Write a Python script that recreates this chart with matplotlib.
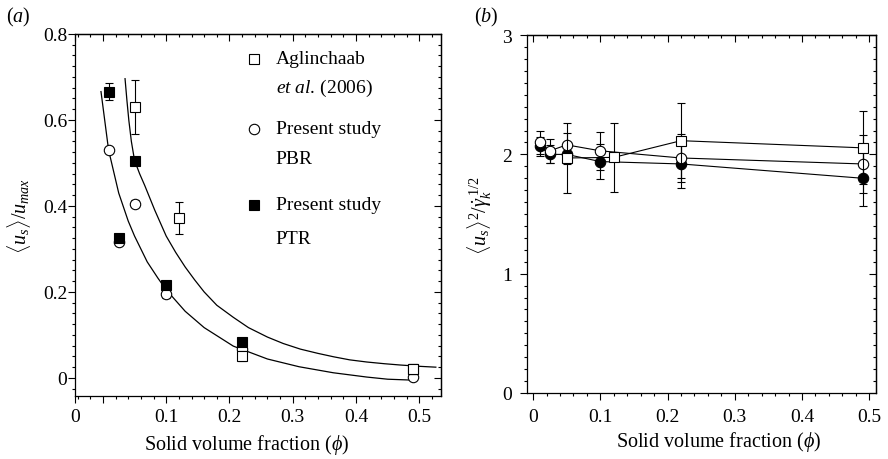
import matplotlib
matplotlib.use("Agg")
import matplotlib.pyplot as plt
from matplotlib.ticker import MultipleLocator, FixedLocator, NullFormatter

plt.rcParams['font.family'] = ['Liberation Serif', 'DejaVu Serif']
plt.rcParams['mathtext.fontset'] = 'custom'
plt.rcParams['mathtext.rm'] = 'Liberation Serif'
plt.rcParams['mathtext.it'] = 'Liberation Serif:italic'
plt.rcParams['font.size'] = 14
plt.rcParams['axes.linewidth'] = 0.9

# ---- panel (a): <u_s>/u_max vs solid volume fraction
phi_agl = [0.05, 0.12, 0.22, 0.49]
u_agl = [0.63, 0.372, 0.051, 0.021]
u_agl_err = [0.063, 0.037, 0.012, 0.012]

phi_pres = [0.01, 0.025, 0.05, 0.1, 0.22, 0.49]
u_pbr = [0.53, 0.316, 0.405, 0.195, 0.067, 0.003]
u_pbr_err = [0.008, 0.008, 0.008, 0.01, 0.008, 0.006]
u_ptr = [0.666, 0.325, 0.505, 0.217, 0.083, 0.02]
u_ptr_err = [0.02, 0.008, 0.008, 0.008, 0.008, 0.008]

# fitted curves
fit_low_phi = [-0.003, 0.009, 0.025, 0.04, 0.05, 0.07, 0.087, 0.1, 0.13, 0.16,
               0.206, 0.26, 0.31, 0.364, 0.417, 0.45, 0.487]
fit_low_u = [0.666, 0.53, 0.43, 0.365, 0.33, 0.27, 0.232, 0.205, 0.155, 0.117,
             0.074, 0.044, 0.026, 0.012, 0.002, -0.003, -0.005]
fit_high_phi = [0.035, 0.038, 0.041, 0.045, 0.05, 0.058, 0.066, 0.082, 0.1,
                0.115, 0.13, 0.145, 0.16, 0.18, 0.206, 0.23, 0.26, 0.285,
                0.312, 0.34, 0.365, 0.39, 0.417, 0.445, 0.47, 0.5, 0.526]
fit_high_u = [0.696, 0.645, 0.599, 0.55, 0.506, 0.475, 0.448, 0.39, 0.33,
              0.292, 0.258, 0.228, 0.2, 0.169, 0.141, 0.117, 0.095, 0.08,
              0.067, 0.057, 0.049, 0.042, 0.037, 0.033, 0.03, 0.027, 0.025]

# ---- panel (b): <u_s>^2 / gamma_k^(1/2)
phi_b_agl = [0.05, 0.12, 0.22, 0.49]
r_agl = [1.97, 1.975, 2.115, 2.055]
r_agl_err = [0.29, 0.29, 0.315, 0.305]

phi_b = [0.01, 0.025, 0.05, 0.1, 0.22, 0.49]
r_pbr = [2.10, 2.03, 2.08, 2.03, 1.97, 1.92]
r_pbr_err = [0.10, 0.10, 0.10, 0.16, 0.20, 0.24]
r_ptr = [2.07, 2.0, 2.0, 1.94, 1.92, 1.80]
r_ptr_err = [0.08, 0.075, 0.08, 0.15, 0.20, 0.23]

fig = plt.figure(figsize=(8.88, 4.6), dpi=100)
ax1 = fig.add_axes([0.0845, 0.137, 0.412, 0.787])
ax2 = fig.add_axes([0.5935, 0.1435, 0.393, 0.778])

ms = 7.5
eb = dict(ecolor='k', elinewidth=0.8, capsize=3, capthick=0.8, mew=0.8)

# (a)
ax1.plot(fit_low_phi, fit_low_u, color='k', lw=0.9, zorder=2)
ax1.plot(fit_high_phi, fit_high_u, color='k', lw=0.9, zorder=2)
ax1.errorbar(phi_pres, u_pbr, yerr=u_pbr_err, fmt='o', mfc='white', mec='k',
             ms=ms, zorder=3, **eb)
ax1.errorbar(phi_pres, u_ptr, yerr=u_ptr_err, fmt='s', mfc='k', mec='k',
             ms=ms, zorder=4, **eb)
ax1.errorbar(phi_agl, u_agl, yerr=u_agl_err, fmt='s', mfc='white', mec='k',
             ms=ms, zorder=5, **eb)

ax1.set_xlim(-0.044, 0.534)
ax1.set_ylim(-0.042, 0.8)
ax1.xaxis.set_major_locator(FixedLocator([-0.044, 0, 0.1, 0.2, 0.3, 0.4, 0.5]))
ax1.set_xticklabels(['0', '', '0.1', '0.2', '0.3', '0.4', '0.5'])
ax1.xaxis.set_minor_locator(MultipleLocator(0.02))
ax1.set_yticks([0, 0.2, 0.4, 0.6, 0.8])
ax1.set_yticklabels(['0', '0.2', '0.4', '0.6', '0.8'])
ax1.yaxis.set_minor_locator(MultipleLocator(0.025))
ax1.set_xlabel(r'Solid volume fraction ($\phi$)', fontsize=14.5)
ax1.xaxis.set_label_coords(0.47, -0.1)
ax1.set_ylabel(r'$\langle u_s \rangle / u_{max}$', fontsize=14.5)
ax1.yaxis.set_label_coords(-0.115, 0.5)

# legend drawn by hand
lx, tx = 0.488, 0.548
ax1.plot([lx], [0.931], 's', mfc='white', mec='k', ms=ms, mew=0.8,
         transform=ax1.transAxes, clip_on=False)
ax1.text(tx, 0.931, 'Aglinchaab', transform=ax1.transAxes, va='center')
ax1.text(tx, 0.853, r'$\mathit{et\ al.}\,$(2006)', transform=ax1.transAxes,
         va='center')
ax1.plot([lx], [0.738], 'o', mfc='white', mec='k', ms=ms, mew=0.8,
         transform=ax1.transAxes, clip_on=False)
ax1.text(tx, 0.738, 'Present study', transform=ax1.transAxes, va='center')
ax1.text(tx, 0.655, 'PBR', transform=ax1.transAxes, va='center')
ax1.plot([lx], [0.528], 's', mfc='k', mec='k', ms=ms, mew=0.8,
         transform=ax1.transAxes, clip_on=False)
ax1.text(tx, 0.528, 'Present study', transform=ax1.transAxes, va='center')
ax1.text(tx, 0.435, 'PTR', transform=ax1.transAxes, va='center')

# (b)
ax2.errorbar(phi_b, r_ptr, yerr=r_ptr_err, fmt='-o', color='k', mfc='k',
             mec='k', lw=0.8, ms=ms, zorder=3, **eb)
ax2.errorbar(phi_b, r_pbr, yerr=r_pbr_err, fmt='-o', color='k', mfc='white',
             mec='k', lw=0.8, ms=ms, zorder=4, **eb)
ax2.errorbar(phi_b_agl, r_agl, yerr=r_agl_err, fmt='-s', color='k',
             mfc='white', mec='k', lw=0.8, ms=ms, zorder=5, **eb)

ax2.set_xlim(-0.009, 0.51)
ax2.set_ylim(0, 3)
ax2.set_xticks([0, 0.1, 0.2, 0.3, 0.4, 0.5])
ax2.set_xticklabels(['0', '0.1', '0.2', '0.3', '0.4', '0.5'])
ax2.xaxis.set_minor_locator(MultipleLocator(0.02))
ax2.set_yticks([0, 1, 2, 3])
ax2.yaxis.set_minor_locator(MultipleLocator(0.1))
ax2.set_xlabel(r'Solid volume fraction ($\phi$)', fontsize=14.5)
ax2.xaxis.set_label_coords(0.55, -0.1)
ax2.set_ylabel(r'$\langle u_s \rangle^2 / \dot{\gamma}_k^{\ 1/2}$', fontsize=14.5)
ax2.yaxis.set_label_coords(-0.095, 0.5)

for ax, xpad, ypad in ((ax1, 4, 0.5), (ax2, 6, 6)):
    ax.tick_params(which='both', direction='out', top=False, right=False,
                   width=0.8, labelsize=14)
    ax.tick_params(which='major', length=5)
    ax.tick_params(which='minor', length=2.5)
    ax.tick_params(axis='x', which='major', pad=xpad)
    ax.tick_params(axis='y', which='major', pad=ypad)
    sx = ax.secondary_xaxis('top')
    sx.xaxis.set_major_locator(ax.xaxis.get_major_locator())
    sx.xaxis.set_minor_locator(MultipleLocator(0.02))
    sx.xaxis.set_major_formatter(NullFormatter())
    sx.tick_params(which='both', direction='in', width=0.8)
    sx.tick_params(which='major', length=5)
    sx.tick_params(which='minor', length=2.5)
    sy = ax.secondary_yaxis('right')
    sy.yaxis.set_major_locator(ax.yaxis.get_major_locator())
    sy.yaxis.set_minor_locator(ax.yaxis.get_minor_locator())
    sy.yaxis.set_major_formatter(NullFormatter())
    sy.tick_params(which='both', direction='in', width=0.8)
    sy.tick_params(which='major', length=5)
    sy.tick_params(which='minor', length=2.5)

fig.text(0.007, 0.952, r'($\mathit{a}$)', fontsize=14.5)
fig.text(0.534, 0.952, r'($\mathit{b}$)', fontsize=14.5)

fig.savefig('out.png', dpi=100)
